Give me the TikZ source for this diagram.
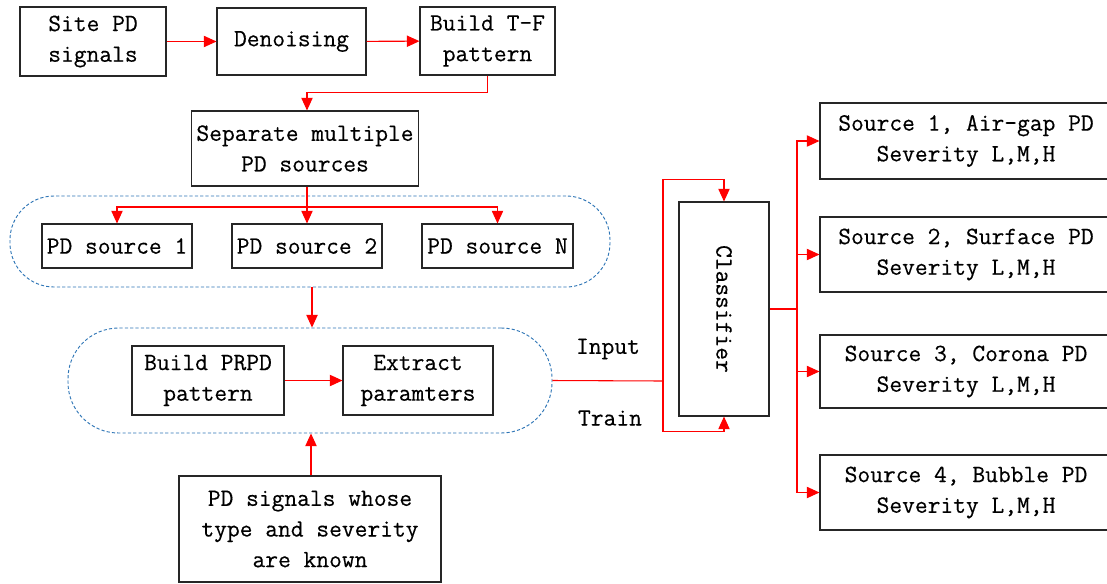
\documentclass[tikz,border=0pt]{standalone}
\usepackage{fontspec}
\setmonofont{Latin Modern Mono}[FakeBold=0.4]
\usetikzlibrary{arrows.meta,positioning,calc}
\definecolor{groupblue}{RGB}{46,117,182}
\tikzset{
  basic/.style = {draw=black!85, line width=0.8pt, align=center, inner sep=0pt,
                  font=\ttfamily\fontsize{18.6}{23}\selectfont},
  group/.style = {draw=groupblue, line width=0.7pt, dash pattern=on 2.4pt off 1.6pt, inner sep=0pt},
  tag/.style   = {font=\ttfamily\fontsize{18.6}{23}\selectfont, inner sep=0pt},
  flow/.style  = {draw=red, line width=0.8pt, -{Triangle[length=9.5pt,width=8.5pt]}},
  link/.style  = {draw=red, line width=0.8pt}
}

\begin{document}
\begin{tikzpicture}[x=0.75pt,y=-0.75pt]
\useasboundingbox (0,0) rectangle (1107,583);

% dashed groups
\node[group, minimum width=450pt, minimum height=68.25pt, rounded corners=33pt] (grp1) at (310,241.5) {};
\node[group, minimum width=363pt, minimum height=78.75pt, rounded corners=38pt] (grp2) at (310,380.5) {};

% left column
\node[basic, minimum width=109.5pt, minimum height=51.75pt] (site) at (93,41.5) {Site PD\\signals};
\node[basic, minimum width=111.75pt, minimum height=50.25pt] (denoise) at (291.5,41.5) {Denoising};
\node[basic, minimum width=101.25pt, minimum height=51pt] (tf) at (487.5,41) {Build T-F\\pattern};
\node[basic, minimum width=170.25pt, minimum height=56.25pt] (sep) at (305,148.5) {Separate multiple\\PD sources};
\node[basic, minimum width=112.5pt, minimum height=33pt] (src1) at (117,246) {PD source 1};
\node[basic, minimum width=112.5pt, minimum height=33pt] (src2) at (307,246) {PD source 2};
\node[basic, minimum width=113.25pt, minimum height=33pt] (srcN) at (497.5,246) {PD source N};
\node[basic, minimum width=114pt, minimum height=51.75pt] (prpd) at (208,380.5) {Build PRPD\\pattern};
\node[basic, minimum width=112.5pt, minimum height=51.75pt] (extract) at (418,380.5) {Extract\\paramters};
\node[basic, minimum width=196.5pt, minimum height=79.5pt] (known) at (310,529) {PD signals whose\\type and severity\\are known};

% classifier and results
\node[basic, minimum width=67.5pt, minimum height=160.5pt] (cls) at (724,309) {\rotatebox{-90}{Classifier}};
\node[tag] (input) at (608,349) {Input};
\node[tag] (train) at (610,418) {Train};
\node[basic, minimum width=219pt, minimum height=57pt] (out1) at (966,141) {Source 1, Air-gap PD\\Severity L,M,H};
\node[basic, minimum width=219pt, minimum height=56.25pt] (out2) at (966,254.5) {Source 2, Surface PD\\Severity L,M,H};
\node[basic, minimum width=219pt, minimum height=54.75pt] (out3) at (966,371.5) {Source 3, Corona PD\\Severity L,M,H};
\node[basic, minimum width=219pt, minimum height=56.25pt] (out4) at (966,492.5) {Source 4, Bubble PD\\Severity L,M,H};

\coordinate (split) at (307,207);
\coordinate (fork) at (663,381);
\coordinate (hub) at (797,309);

\draw[flow] (site) -- (denoise);
\draw[flow] (denoise) -- (tf);
\draw[flow] (tf.south) -- ++(0,17) -| (sep.north -| split);
\draw[flow] (sep.south -| split) -- (src2.north);
\draw[flow] (split) -| (src1.north);
\draw[flow] (split) -| (srcN.north);
\draw[flow] (grp1.south -| 312,0) -- (grp2.north -| 312,0);
\draw[flow] (prpd) -- (extract);
\draw[flow] (known.north -| 311,0) -- (grp2.south -| 311,0);
\draw[link] (grp2.east) -- (fork);
\draw[flow] (fork) |- ($(cls.north)+(0,-22)$) -- (cls.north);
\draw[flow] (fork) |- ($(cls.south)+(0,15)$) -- (cls.south);
\draw[link] (cls.east |- hub) -- (hub);
\draw[flow] (hub) |- (out1.west);
\draw[flow] (hub) |- (out2.west);
\draw[flow] (hub) |- (out3.west);
\draw[flow] (hub) |- (out4.west);
\end{tikzpicture}
\end{document}
